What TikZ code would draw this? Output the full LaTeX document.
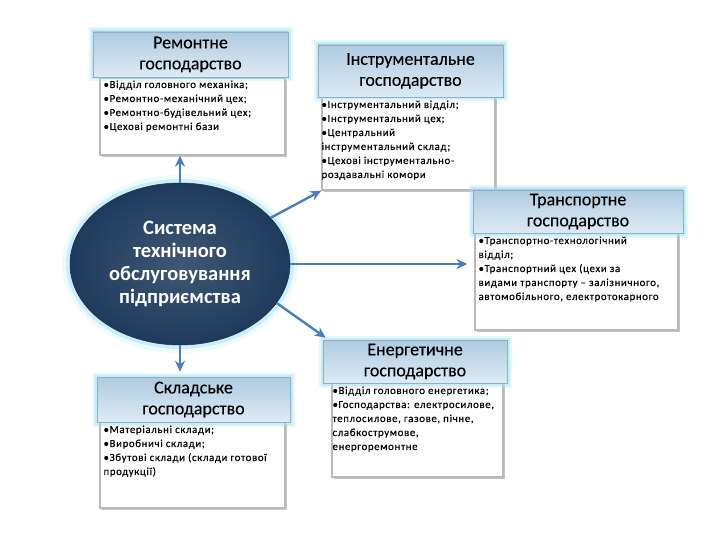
\documentclass[tikz,border=0pt]{standalone}
\usepackage{fontspec}
\setmainfont{Carlito}
\newfontfamily\bodyfont[LetterSpace=6,FakeBold=0.4]{Carlito}
\newfontfamily\hdrfont[FakeBold=0.3]{Carlito}
\usetikzlibrary{arrows.meta,shapes.geometric,shadows,calc}
\definecolor{hdrtop}{HTML}{AFCBE0}
\definecolor{hdrbot}{HTML}{DDEAF4}
\definecolor{hdrline}{HTML}{8EAFC8}
\definecolor{glowc}{HTML}{9FE3F2}
\definecolor{navy}{HTML}{1E3A5C}
\definecolor{arrc}{HTML}{4A7EBB}
\begin{document}
\begin{tikzpicture}[x=1pt,y=-1pt,
  hdr/.style={rectangle, inner sep=0pt, top color=hdrtop, bottom color=hdrbot,
    draw=hdrline, line width=0.6pt, align=center, font=\hdrfont\fontsize{18}{21}\selectfont,
    preaction={draw=glowc, line width=9pt, opacity=0.25},
    preaction={draw=glowc, line width=5pt, opacity=0.45}},
  bodybox/.style={rectangle, inner sep=0pt, fill=white, draw=gray!55, line width=1.3pt,
    drop shadow={shadow xshift=1.5pt, shadow yshift=-1.8pt, opacity=0.45}},
  btext/.style={anchor=north west, inner sep=0pt, align=left,
    font=\bodyfont\fontsize{10.8}{14}\selectfont},
  conn/.style={draw=arrc, line width=2.4pt, -{Stealth[length=11pt,width=10pt]}}]
\useasboundingbox (0,0) rectangle (720,540);
\fill[white] (0,0) rectangle (720,540);
% bodies
\node[bodybox, minimum width=185pt, minimum height=77pt] (b1) at (192.5,116.5) {};
\node[bodybox, minimum width=173pt, minimum height=93pt] (b2) at (408.5,143.5) {};
\node[bodybox, minimum width=203pt, minimum height=97pt] (b3) at (576.5,281.5) {};
\node[bodybox, minimum width=171pt, minimum height=94pt] (b4) at (417.5,430) {};
\node[bodybox, minimum width=185pt, minimum height=86pt] (b5) at (192.5,465) {};
% headers
\node[hdr, minimum width=195pt, minimum height=45pt] (h1) at (190.5,54.5) {Ремонтне\\господарство};
\node[hdr, minimum width=185pt, minimum height=52pt] (h2) at (410.5,71) {Інструментальне\\господарство};
\node[hdr, minimum width=210pt, minimum height=43pt] (h3) at (578,211.5) {Транспортне\\господарство};
\node[hdr, minimum width=184pt, minimum height=43pt] (h4) at (415,361.5) {Енергетичне\\господарство};
\node[hdr, minimum width=193pt, minimum height=45pt] (h5) at (193.5,399.5) {Складське\\господарство};
% body texts
\node[btext] (t1) at ($(b1.north west)+(4,3)$) {•Відділ головного механіка;\\•Ремонтно-механічний цех;\\•Ремонтно-будівельний цех;\\•Цехові ремонтні бази};
\node[btext] (t2) at ($(b2.north west)+(0,4)$) {•Інструментальний відділ;\\•Інструментальний цех;\\•Центральний\\інструментальний склад;\\•Цехові інструментально-\\роздавальні комори};
\node[btext] (t3) at ($(b3.north west)+(4,4)$) {•Транспортно-технологічний\\відділ;\\•Транспортний цех (цехи за\\видами транспорту – залізничного,\\автомобільного, електротокарного};
\node[btext] (t4) at ($(b4.north west)+(1,4)$) {•Відділ головного енергетика;\\•Господарства: електросилове,\\теплосилове, газове, пічне,\\слабкострумове,\\енергоремонтне};
\node[btext] (t5) at ($(b5.north west)+(4,4)$) {•Матеріальні склади;\\•Виробничі склади;\\•Збутові склади (склади готової\\продукції)};
% ellipse
\node[ellipse, inner sep=0pt, minimum width=220pt, minimum height=162pt,
  inner color=navy!85!white, outer color=navy, draw=navy!80!black, line width=0.5pt,
  preaction={draw=glowc, line width=16pt, opacity=0.15},
  preaction={draw=glowc, line width=8pt, opacity=0.45},
  text=white, align=center, font=\bfseries\fontsize{20.5}{23}\selectfont] (e) at (180,264)
  {Система\\технічного\\обслуговування\\підприємства};
% connectors
\draw[conn] (e.north) -- (e.north |- b1.south);
\draw[conn] (e.27) -- (b2.south west);
\draw[conn, shorten >=7pt] (e.east) -- (b3.west |- e.east);
\draw[conn] (e.-22) -- ($(h4.north west)+(3,-2)$);
\draw[conn, shorten >=5pt] (e.south) -- (e.south |- h5.north);
\end{tikzpicture}
\end{document}
